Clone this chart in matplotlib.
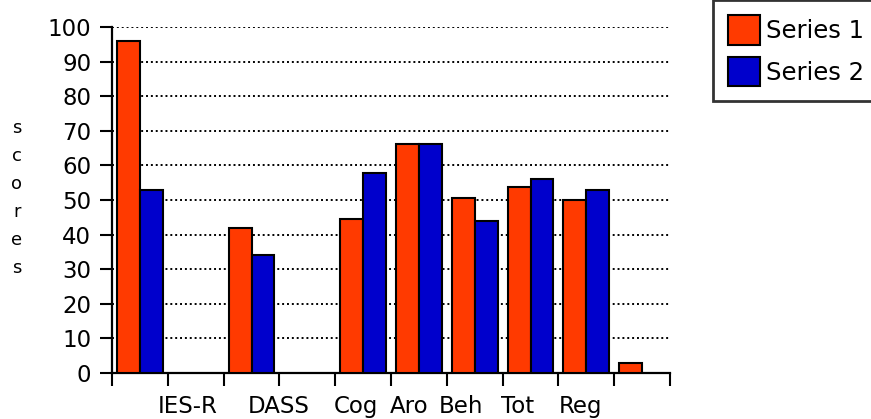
import numpy as np
import matplotlib.pyplot as plt
from matplotlib.patches import Patch

# slot values (10 slots along the x axis, nan = no bar)
series1 = [96, np.nan, 42, np.nan, 44.6, 66.2, 50.7, 53.7, 49.9, 3]
series2 = [53, np.nan, 34, np.nan, 57.8, 66.2, 43.9, 56.2, 53, np.nan]
labels = ['IES-R', 'DASS', 'Cog', 'Aro', 'Beh', 'Tot', 'Reg']
label_pos = [0.86, 2.49, 3.88, 4.83, 5.76, 6.76, 7.90]
yticks = list(range(0, 101, 10))

red = '#ff3a00'
blue = '#0000cc'

fig = plt.figure(figsize=(8.71, 4.19), dpi=100)
ax = fig.add_axes([112/871, 1-373/419, (670-112)/871, (373-27)/419])

x = np.arange(len(series1))
w = 0.41
ax.bar(x - w/2, series1, w, color=red, edgecolor='black', linewidth=1.5, zorder=3)
ax.bar(x + w/2, series2, w, color=blue, edgecolor='black', linewidth=1.5, zorder=3)

ax.set_xlim(-0.5, 9.5)
ax.set_ylim(0, 100)
ax.set_yticks(yticks)
ax.set_xticks(np.arange(-0.5, 10, 1))
ax.set_xticklabels([])
ax.tick_params(axis='both', direction='out', length=9, width=1.5, color='black')
ax.tick_params(axis='y', labelsize=16.5, pad=6)

for s in ['top', 'right']:
    ax.spines[s].set_visible(False)
for s in ['left', 'bottom']:
    ax.spines[s].set_linewidth(1.6)

ax.yaxis.grid(True, color='black', linestyle=(0, (1, 1.5)), linewidth=1.4, zorder=0)
ax.set_axisbelow(True)

for lab, p in zip(labels, label_pos):
    ax.text(p, -9.6, lab, ha='center', va='center', fontsize=16.5)

fig.text(17/871, 1-198/419, 's\nc\no\nr\ne\ns', ha='center', va='center',
         fontsize=13, linespacing=1.72)

handles = [Patch(facecolor=red, edgecolor='black', linewidth=1.5, label='Series 1'),
           Patch(facecolor=blue, edgecolor='black', linewidth=1.5, label='Series 2')]
leg = fig.legend(handles=handles, loc='lower left', bbox_to_anchor=(713/871, 1-101/419),
                 fontsize=17.5, frameon=True, fancybox=False, shadow=False,
                 handlelength=1.32, handleheight=1.5, handletextpad=0.25,
                 borderpad=0.6, labelspacing=0.5, borderaxespad=0)
leg.get_frame().set_edgecolor('black')
leg.get_frame().set_linewidth(2)

fig.savefig('out.png', dpi=100)
